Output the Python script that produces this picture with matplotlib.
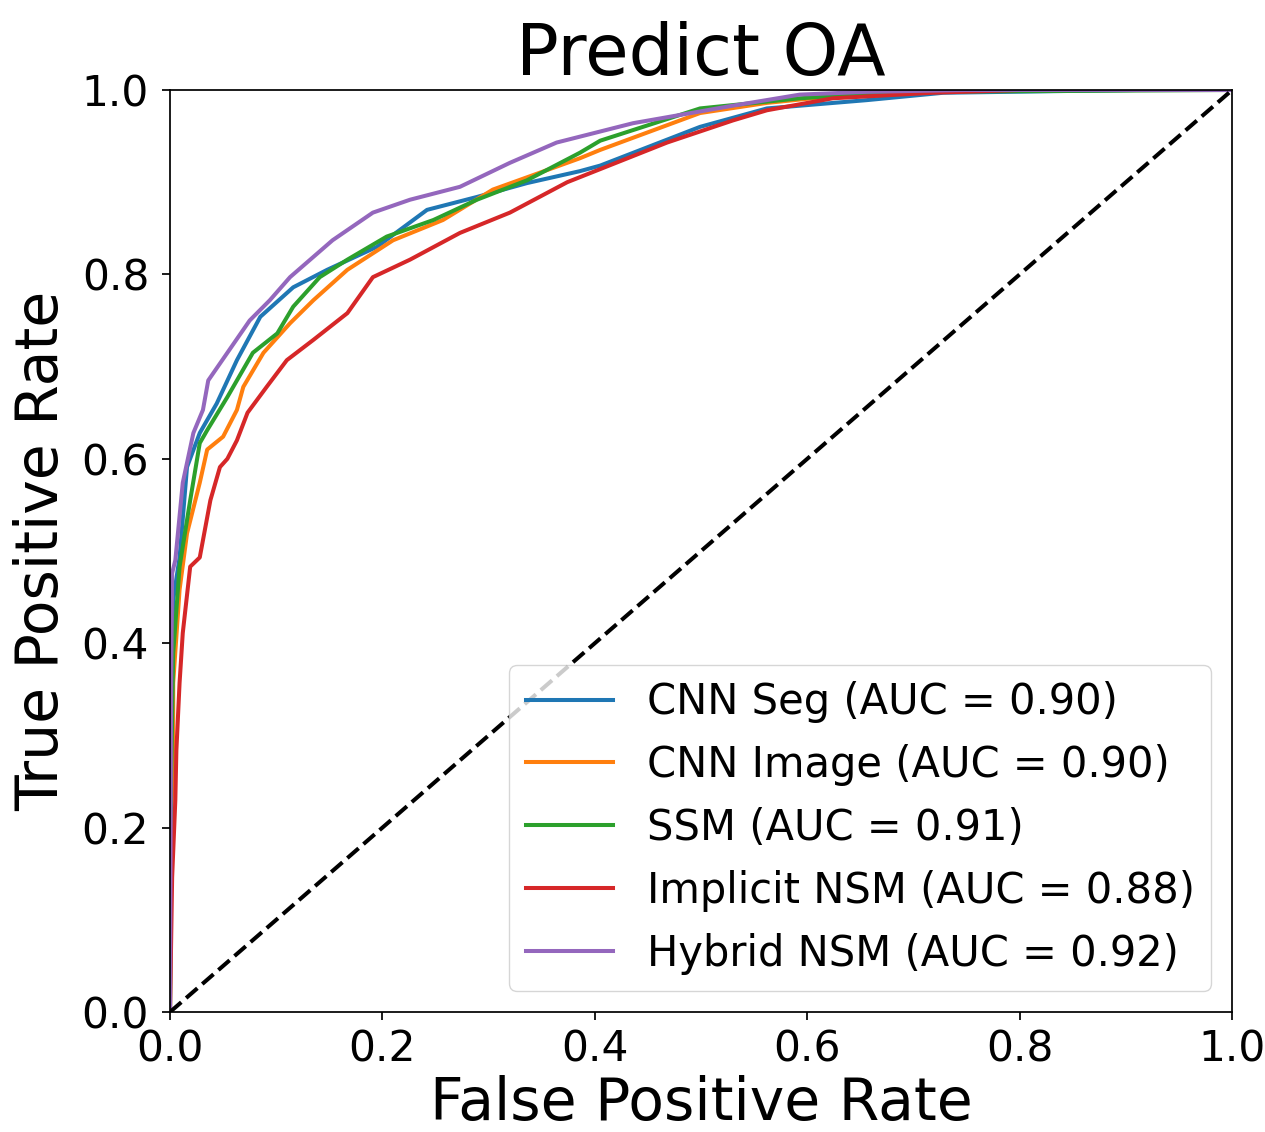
import numpy as np
import matplotlib.pyplot as plt

plt.rcParams['font.family'] = ['DejaVu Sans']

# ROC points (fpr, tpr)
seg_fpr = [0, 0.001, 0.003, 0.009, 0.016, 0.028, 0.044, 0.063, 0.085, 0.116, 0.148,
           0.195, 0.242, 0.289, 0.336, 0.386, 0.405, 0.499, 0.562, 0.656, 0.728, 0.91, 1.0]
seg_tpr = [0, 0.35, 0.447, 0.493, 0.591, 0.628, 0.660, 0.707, 0.754, 0.786, 0.805,
           0.830, 0.870, 0.884, 0.899, 0.912, 0.918, 0.960, 0.980, 0.989, 0.997, 1.0, 1.0]

img_fpr = [0, 0.001, 0.003, 0.003, 0.009, 0.016, 0.028, 0.035, 0.050, 0.063, 0.069, 0.088,
           0.113, 0.135, 0.167, 0.210, 0.257, 0.304, 0.386, 0.405, 0.499, 0.562, 0.656, 0.80, 1.0]
img_tpr = [0, 0.20, 0.284, 0.357, 0.458, 0.519, 0.574, 0.610, 0.624, 0.653, 0.678, 0.715,
           0.747, 0.772, 0.805, 0.837, 0.859, 0.892, 0.926, 0.935, 0.975, 0.986, 0.997, 1.0, 1.0]

ssm_fpr = [0, 0.001, 0.003, 0.009, 0.019, 0.028, 0.035, 0.054, 0.078, 0.101, 0.116, 0.141,
           0.167, 0.204, 0.248, 0.289, 0.336, 0.386, 0.405, 0.499, 0.593, 0.687, 1.0]
ssm_tpr = [0, 0.25, 0.389, 0.483, 0.555, 0.617, 0.631, 0.667, 0.715, 0.736, 0.765, 0.797,
           0.816, 0.841, 0.859, 0.881, 0.902, 0.932, 0.945, 0.980, 0.991, 0.998, 1.0]

imp_fpr = [0, 0.002, 0.005, 0.006, 0.009, 0.012, 0.019, 0.028, 0.038, 0.047, 0.054, 0.063,
           0.073, 0.091, 0.110, 0.135, 0.167, 0.191, 0.226, 0.273, 0.320, 0.374, 0.468,
           0.530, 0.562, 0.624, 0.718, 0.80, 1.0]
imp_tpr = [0, 0.146, 0.230, 0.284, 0.357, 0.411, 0.483, 0.493, 0.555, 0.591, 0.600, 0.620,
           0.650, 0.678, 0.707, 0.729, 0.758, 0.797, 0.816, 0.845, 0.867, 0.900, 0.943,
           0.967, 0.978, 0.991, 0.997, 1.0, 1.0]

hyb_fpr = [0, 0.001, 0.002, 0.005, 0.012, 0.022, 0.031, 0.036, 0.054, 0.075, 0.094, 0.113,
           0.135, 0.153, 0.191, 0.226, 0.273, 0.320, 0.364, 0.436, 0.530, 0.593, 0.656, 0.75, 1.0]
hyb_tpr = [0, 0.35, 0.476, 0.490, 0.574, 0.628, 0.653, 0.685, 0.715, 0.750, 0.772, 0.797,
           0.819, 0.837, 0.867, 0.881, 0.895, 0.921, 0.943, 0.964, 0.983, 0.995, 0.998, 1.0, 1.0]

names = ['CNN Seg', 'CNN Image', 'SSM', 'Implicit NSM', 'Hybrid NSM']
aucs = [0.90, 0.90, 0.91, 0.88, 0.92]
curves = [(seg_fpr, seg_tpr), (img_fpr, img_tpr), (ssm_fpr, ssm_tpr),
          (imp_fpr, imp_tpr), (hyb_fpr, hyb_tpr)]

fig = plt.figure(figsize=(12.65, 11.32), dpi=100)
ax = fig.add_axes([0.1344, 0.106, 0.8396, 0.8145])

for name, auc, (f, t) in zip(names, aucs, curves):
    ax.plot(f, t, lw=2.9, label=f'{name} (AUC = {auc:.2f})')
ax.plot([0, 1], [0, 1], 'k--', lw=2.9)

ax.set_xlim(0, 1)
ax.set_ylim(0, 1)
ax.set_xticks(np.arange(0, 1.01, 0.2))
ax.set_yticks(np.arange(0, 1.01, 0.2))
ax.tick_params(labelsize=30.5, length=6, width=1.25)
ax.tick_params(axis='x', pad=6)
ax.tick_params(axis='y', pad=9)
for s in ax.spines.values():
    s.set_linewidth(1.25)

ax.set_xlabel('False Positive Rate', fontsize=42, labelpad=3)
ax.set_ylabel('True Positive Rate', fontsize=42, labelpad=8)
ax.set_title('Predict OA', fontsize=51, pad=6)
ax.legend(loc='lower right', fontsize=30, handlelength=2.1)

fig.savefig('out.png', dpi=100)
